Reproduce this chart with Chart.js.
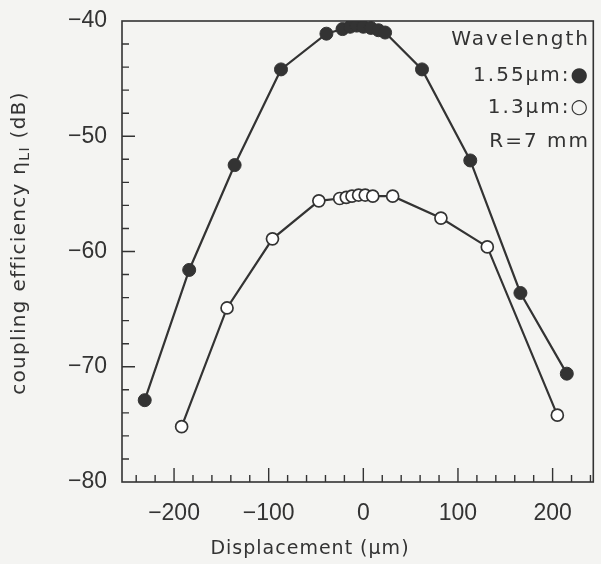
<!DOCTYPE html>
<html>
<head>
<meta charset="utf-8">
<script src="https://cdn.jsdelivr.net/npm/chart.js@4"></script>
<style>
  body { margin: 0; background: #f4f4f2; }
  #wrap { width: 601px; height: 564px; }
</style>
</head>
<body>
<div id="wrap"><canvas id="chart"></canvas></div>
<script>
// 1.55 um (filled markers)
const x155 = [-231, -184, -136, -87, -39, -22, -14, -7, 0, 8, 16, 23, 62, 113, 166, 215];
const y155 = [-72.9, -61.6, -52.5, -44.2, -41.1, -40.7, -40.5, -40.4, -40.5, -40.6, -40.8, -41.0, -44.2, -52.1, -63.6, -70.6];

// 1.3 um (open markers)
const x13 = [-192, -144, -96, -47, -25, -18, -12, -5, 2, 10, 31, 82, 131, 205];
const y13 = [-75.2, -64.9, -58.9, -55.6, -55.4, -55.3, -55.2, -55.1, -55.1, -55.2, -55.2, -57.1, -59.6, -74.2];

const xLabels = [-200, -100, 0, 100, 200];
const yLabels = [-80, -70, -60, -50, -40];
const legendLines = ["Wavelength", "1.55\u03bcm:\u25cf", "1.3\u03bcm:\u25cb", "R=7 mm"];

const ink = "#333333";
const tickFont = "'Liberation Sans Narrow', 'Liberation Sans', Arial, sans-serif";
const textFont = "'DejaVu Sans', sans-serif";

function pts(xs, ys) {
  return xs.map((x, i) => ({ x: x, y: ys[i] }));
}

function minus(v) {
  return String(v).replace("-", "\u2212");
}

// draws the frame, inward ticks, axis titles and the text legend
const decor = {
  id: "decor",
  afterDraw(chart) {
    const ctx = chart.ctx;
    const a = chart.chartArea;
    const xs = chart.scales.x;
    const ys = chart.scales.y;
    ctx.save();
    ctx.strokeStyle = ink;
    ctx.lineWidth = 1.6;
    ctx.strokeRect(a.left, a.top, a.right - a.left, a.bottom - a.top);

    ctx.lineWidth = 1.4;
    ctx.beginPath();
    for (let v = -240; v <= 240; v += 20) {
      const px = xs.getPixelForValue(v);
      const len = v % 100 === 0 ? 14 : 7;
      ctx.moveTo(px, a.bottom);
      ctx.lineTo(px, a.bottom - len);
    }
    for (let v = -78; v < -40; v += 2) {
      const py = ys.getPixelForValue(v);
      const len = v % 10 === 0 ? 13 : 7;
      ctx.moveTo(a.left, py);
      ctx.lineTo(a.left + len, py);
    }
    ctx.stroke();

    ctx.fillStyle = "#333";
    // x title
    ctx.font = "19px " + textFont;
    ctx.letterSpacing = "1px";
    ctx.textAlign = "center";
    ctx.textBaseline = "middle";
    ctx.fillText("Displacement (\u03bcm)", 310, 549);

    // y title with subscript
    ctx.save();
    ctx.translate(20, 243);
    ctx.rotate(-Math.PI / 2);
    ctx.textAlign = "left";
    ctx.letterSpacing = "1.3px";
    const p1 = "coupling efficiency \u03b7";
    const p2 = "LI";
    const p3 = " (dB)";
    ctx.font = "20px " + textFont;
    const w1 = ctx.measureText(p1).width;
    const w3 = ctx.measureText(p3).width;
    ctx.font = "14px " + textFont;
    const w2 = ctx.measureText(p2).width;
    let x0 = -(w1 + w2 + w3) / 2;
    ctx.font = "20px " + textFont;
    ctx.fillText(p1, x0, 0);
    ctx.font = "14px " + textFont;
    ctx.fillText(p2, x0 + w1, 5);
    ctx.font = "20px " + textFont;
    ctx.fillText(p3, x0 + w1 + w2, 0);
    ctx.restore();

    // legend text
    ctx.font = "20px " + textFont;
    ctx.letterSpacing = "2px";
    ctx.textAlign = "right";
    const rows = [40, 76, 108, 142];
    legendLines.forEach((t, i) => ctx.fillText(t, 590, rows[i]));
    ctx.restore();
  }
};

new Chart(document.getElementById("chart"), {
  type: "scatter",
  data: {
    datasets: [
      {
        label: "1.55\u03bcm",
        data: pts(x155, y155),
        showLine: true,
        borderColor: ink,
        borderWidth: 2.2,
        pointRadius: 6.5,
        pointBackgroundColor: ink,
        pointBorderColor: ink,
        pointBorderWidth: 1
      },
      {
        label: "1.3\u03bcm",
        data: pts(x13, y13),
        showLine: true,
        borderColor: ink,
        borderWidth: 2.2,
        pointRadius: 6,
        pointBackgroundColor: "#ffffff",
        pointBorderColor: ink,
        pointBorderWidth: 1.7
      }
    ]
  },
  options: {
    responsive: true,
    maintainAspectRatio: false,
    animation: false,
    layout: { padding: { left: 0, top: 21, right: 3, bottom: 0 } },
    plugins: {
      legend: { display: false },
      tooltip: { enabled: false }
    },
    scales: {
      x: {
        type: "linear",
        min: -255,
        max: 243,
        afterFit: s => { s.height = 82; },
        afterBuildTicks: s => { s.ticks = xLabels.map(v => ({ value: v })); },
        grid: { display: false },
        border: { display: false },
        ticks: {
          color: "#333",
          padding: 10,
          font: { family: tickFont, size: 23 },
          callback: v => minus(v)
        }
      },
      y: {
        min: -80,
        max: -40,
        afterFit: s => { s.width = 122; },
        afterBuildTicks: s => { s.ticks = yLabels.map(v => ({ value: v })); },
        grid: { display: false },
        border: { display: false },
        ticks: {
          color: "#333",
          padding: 7,
          font: { family: tickFont, size: 23 },
          callback: v => minus(v)
        }
      }
    }
  },
  plugins: [decor]
});
</script>
</body>
</html>
